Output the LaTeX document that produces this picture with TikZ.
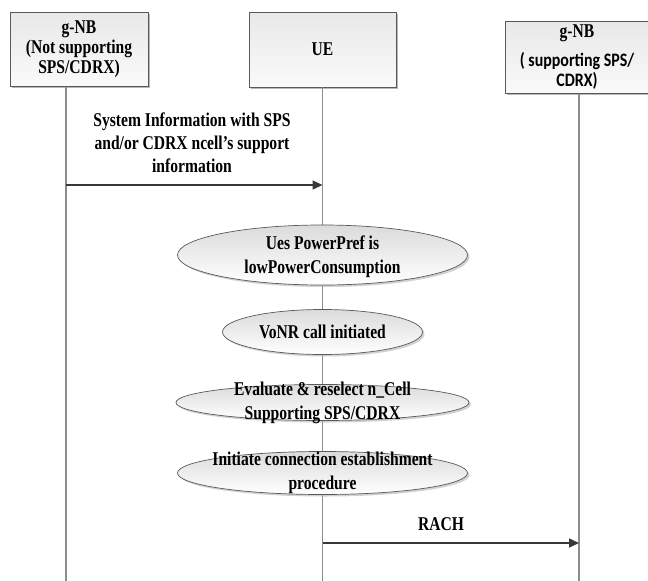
\documentclass[tikz,border=0pt]{standalone}
\usepackage{fontspec}
\setmainfont{Liberation Serif}[FakeStretch=0.8]
\newfontfamily\calib{Carlito}[FakeStretch=0.84]
\usetikzlibrary{arrows.meta,shapes.geometric,shadows}

\newcommand{\cb}{\calib\bfseries\fontsize{19}{23}\selectfont}

\tikzset{
  txt/.style={font=\bfseries\fontsize{19.5}{23}\selectfont, align=center, inner sep=0pt},
  ovaltxt/.style={font=\bfseries\fontsize{19.5}{24}\selectfont, align=center, inner sep=0pt},
  actor/.style={draw=black!65, line width=0.8pt, top color=black!9, bottom color=black!2,
    drop shadow={shadow xshift=2pt, shadow yshift=-2pt, fill=black!40, opacity=0.7},
    inner sep=0pt, align=flush center, text width=134pt,
    font=\bfseries\fontsize{19.5}{20}\selectfont},
  stateoval/.style={ellipse, draw=black!65, line width=0.7pt, top color=black!14, bottom color=white,
    drop shadow={shadow xshift=2pt, shadow yshift=-2pt, fill=black!30, opacity=0.6},
    inner sep=0pt},
  lifeline/.style={draw=black!45, line width=1.3pt},
  msg/.style={draw=black!78, line width=1.5pt, -{Triangle[length=10pt,width=9pt]}},
}

\begin{document}
\begin{tikzpicture}[x=1pt,y=-1pt]
\useasboundingbox (0,0) rectangle (648,581);

% lifeline anchors
\coordinate (lTop) at (66,86);
\coordinate (lBot) at (66,581);
\coordinate (uBot) at (322.5,581);
\coordinate (rTop) at (579,93);
\coordinate (rBot) at (579,581);

% lifelines
\draw[lifeline] (lTop) -- (lBot);
\draw[lifeline] (rTop) -- (rBot);

% participants
\node[actor, minimum width=138pt, minimum height=74pt] (gnbA) at (79,49)
  {g-NB\\(Not supporting\\SPS/CDRX)};
\node[actor, minimum width=147pt, minimum height=75pt] (ue) at (322.5,49.5) {UE};
\node[actor, minimum width=144pt, minimum height=72pt] (gnbB) at (577,57)
  {g-NB\\[6pt]\cb ( supporting SPS/\\CDRX)};

\draw[lifeline] (ue.south) -- (uBot);

% system information message
\coordinate (m1s) at (66,185);
\coordinate (m1e) at (322.5,185);
\draw[msg] (m1s) -- (m1e);
\node[txt] (m1lbl) at (192,143)
  {System Information with SPS\\and/or CDRX ncell's support\\information};

% UE internal states
\node[stateoval, minimum width=290pt, minimum height=60pt] (st1) at (322.5,255) {};
\node[ovaltxt] (st1t) at (322.5,257) {Ues PowerPref is\\lowPowerConsumption};

\node[stateoval, minimum width=200pt, minimum height=45pt] (st2) at (322.5,332) {};
\node[ovaltxt] (st2t) at (st2) {VoNR call initiated};

\node[stateoval, minimum width=293pt, minimum height=36pt] (st3) at (322.5,402.5) {};
\node[ovaltxt] (st3t) at (st3) {Evaluate \& reselect n\_Cell\\Supporting SPS/CDRX};

\node[stateoval, minimum width=290pt, minimum height=43pt] (st4) at (322.5,473) {};
\node[ovaltxt] (st4t) at (st4) {Initiate connection establishment\\procedure};

% random access message
\coordinate (m2s) at (322.5,543);
\coordinate (m2e) at (579,543);
\draw[msg] (m2s) -- (m2e);
\node[txt] (m2lbl) at (441,524) {RACH};

\end{tikzpicture}
\end{document}
